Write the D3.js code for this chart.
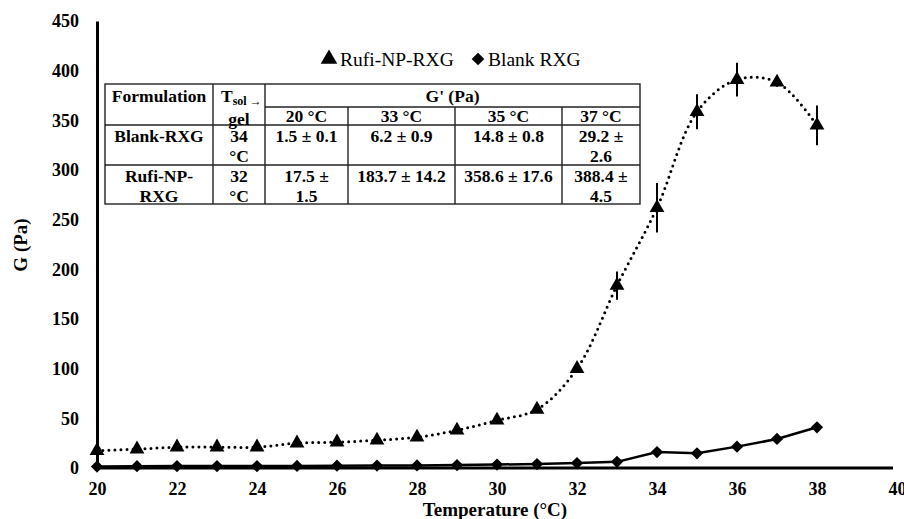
<!DOCTYPE html>
<html lang="en">
<head>
<meta charset="UTF-8">
<title>G vs Temperature</title>
<script src="https://d3js.org/d3.v7.min.js"></script>
<style>
    body { margin: 0; background: #fff; }
    svg { font-family: "Liberation Serif", "Times New Roman", serif; }
    .axis-title { font-size: 19px; font-weight: bold; }
    .cell { font-size: 17.5px; font-weight: bold; }
</style>
</head>
<body>
<svg width="904" height="519"></svg>
<script>
// temperatures (°C)
const temps = [20, 21, 22, 23, 24, 25, 26, 27, 28, 29, 30, 31, 32, 33, 34, 35, 36, 37, 38];
// Rufi-NP-RXG G (Pa) and error
const rufi    = [17.5, 19, 21, 21, 21, 25, 26, 28, 31, 38, 48, 59, 100, 183.7, 262, 358.6, 391, 388.4, 345];
const rufiErr = [1.5, 1, 1, 1, 1, 1, 1, 1, 1, 1, 2, 2, 3, 14.2, 25, 17.6, 17, 4.5, 20];
// Blank RXG G (Pa)
const blank   = [1.5, 1.8, 1.9, 2, 2, 2.1, 2.3, 2.4, 2.6, 3, 3.5, 4, 5, 6.2, 16, 14.8, 21.5, 29.2, 41];

const xTicks = [20, 22, 24, 26, 28, 30, 32, 34, 36, 38, 40];
const yTicks = [0, 50, 100, 150, 200, 250, 300, 350, 400, 450];

// inset table
const colHeads = ["20 °C", "33 °C", "35 °C", "37 °C"];
const rowNames = [["Blank-RXG"], ["Rufi-NP-", "RXG"]];
const rowTsol  = [["34", "°C"], ["32", "°C"]];
const rowVals  = [
    [["1.5 ± 0.1"], ["6.2 ± 0.9"], ["14.8 ± 0.8"], ["29.2 ±", "2.6"]],
    [["17.5 ±", "1.5"], ["183.7 ± 14.2"], ["358.6 ± 17.6"], ["388.4 ±", "4.5"]]
];

const svg = d3.select("svg");
const serif = "'Liberation Serif', 'Times New Roman', serif";

const x = d3.scaleLinear().domain([20, 40]).range([97, 897]);
const y = d3.scaleLinear().domain([0, 450]).range([468, 21]);

// axes
const xAxis = svg.append("g")
    .attr("transform", `translate(0,${y(0)})`)
    .call(d3.axisBottom(x).tickValues(xTicks).tickSize(0).tickPadding(14));
xAxis.select(".domain").attr("stroke-width", 3).attr("d", `M${x(20)},0H${x(40) - 4}`);

const yAxis = svg.append("g")
    .attr("transform", `translate(${x(20)},0)`)
    .call(d3.axisLeft(y).tickValues(yTicks).tickSize(0).tickPadding(18));
yAxis.select(".domain").attr("stroke-width", 3);

[xAxis, yAxis].forEach(a => a
    .attr("font-family", serif)
    .attr("font-size", 18)
    .attr("font-weight", "bold"));

svg.append("text")
    .attr("class", "axis-title")
    .attr("x", 495).attr("y", 516)
    .attr("text-anchor", "middle")
    .text("Temperature (°C)");

svg.append("text")
    .attr("class", "axis-title")
    .attr("font-size", 18)
    .attr("transform", "translate(27,245) rotate(-90)")
    .attr("text-anchor", "middle")
    .text("G (Pa)");

const rufiData = temps.map((t, i) => ({t, v: rufi[i], e: rufiErr[i]}));
const blankData = temps.map((t, i) => ({t, v: blank[i]}));

// Blank RXG solid line
svg.append("path")
    .datum(blankData)
    .attr("fill", "none")
    .attr("stroke", "#000")
    .attr("stroke-width", 2.5)
    .attr("d", d3.line().x(d => x(d.t)).y(d => y(d.v)));

// Rufi dotted smoothed line
svg.append("path")
    .datum(rufiData)
    .attr("fill", "none")
    .attr("stroke", "#000")
    .attr("stroke-width", 3)
    .attr("stroke-linecap", "round")
    .attr("stroke-dasharray", "0,6")
    .attr("d", d3.line().curve(d3.curveCatmullRom.alpha(0.5)).x(d => x(d.t)).y(d => y(d.v)));

// error bars
svg.selectAll(".err")
    .data(rufiData)
    .enter().append("line")
    .attr("class", "err")
    .attr("x1", d => x(d.t)).attr("x2", d => x(d.t))
    .attr("y1", d => y(d.v - d.e)).attr("y2", d => y(d.v + d.e))
    .attr("stroke", "#000")
    .attr("stroke-width", 2);

// markers
const tri = d3.symbol().type(d3.symbolTriangle).size(95);
svg.selectAll(".tri")
    .data(rufiData)
    .enter().append("path")
    .attr("class", "tri")
    .attr("transform", d => `translate(${x(d.t)},${y(d.v)})`)
    .attr("d", tri)
    .attr("fill", "#000");

const dia = d3.symbol().type(d3.symbolSquare).size(75);
svg.selectAll(".dia")
    .data(blankData)
    .enter().append("path")
    .attr("class", "dia")
    .attr("transform", d => `translate(${x(d.t)},${y(d.v)}) rotate(45)`)
    .attr("d", dia)
    .attr("fill", "#000");

// legend
const legend = svg.append("g").attr("transform", "translate(0,60)");
legend.append("path").attr("transform", "translate(329,-1)")
    .attr("d", d3.symbol().type(d3.symbolTriangle).size(120)).attr("fill", "#000");
legend.append("text").attr("x", 340).attr("y", 6).attr("font-size", 19.5).text("Rufi-NP-RXG");
legend.append("path").attr("transform", "translate(478,-1) rotate(45)")
    .attr("d", d3.symbol().type(d3.symbolSquare).size(80)).attr("fill", "#000");
legend.append("text").attr("x", 488).attr("y", 6).attr("font-size", 19.5).text("Blank RXG");

// table
const colX = [105, 213, 265, 348, 455, 562, 640];
const rowY = [84, 125, 165, 204];
const tbl = svg.append("g");
tbl.append("rect")
    .attr("x", colX[0]).attr("y", rowY[0])
    .attr("width", colX[6] - colX[0]).attr("height", rowY[3] - rowY[0])
    .attr("fill", "#fff").attr("stroke", "#222").attr("stroke-width", 1.4);
colX.slice(1, 6).forEach((cx, i) => {
    tbl.append("line")
        .attr("x1", cx).attr("x2", cx)
        .attr("y1", i < 2 ? rowY[0] : 107).attr("y2", rowY[3])
        .attr("stroke", "#222").attr("stroke-width", 1.4);
});
rowY.slice(1, 3).forEach(ry => {
    tbl.append("line").attr("x1", colX[0]).attr("x2", colX[6])
        .attr("y1", ry).attr("y2", ry).attr("stroke", "#222").attr("stroke-width", 1.4);
});
tbl.append("line").attr("x1", colX[2]).attr("x2", colX[6])
    .attr("y1", 107).attr("y2", 107).attr("stroke", "#222").attr("stroke-width", 1.4);

function cellText(lines, cx, top) {
    lines.forEach((s, j) => {
        tbl.append("text").attr("class", "cell")
            .attr("x", cx).attr("y", top + j * 20)
            .attr("text-anchor", "middle").text(s);
    });
}
const mid = i => (colX[i] + colX[i + 1]) / 2;

cellText(["Formulation"], mid(0), 102);
const ts = tbl.append("text").attr("class", "cell").attr("x", 221).attr("y", 102);
ts.append("tspan").text("T");
ts.append("tspan").attr("font-size", 12).attr("dy", 3).text("sol →");
tbl.append("text").attr("class", "cell").attr("font-size", 11)
    .attr("x", mid(1)).attr("y", 125).attr("text-anchor", "middle").text("gel");
cellText(["G' (Pa)"], (colX[2] + colX[6]) / 2, 102);
colHeads.forEach((h, i) => cellText([h], mid(i + 2), 122));

rowNames.forEach((r, k) => {
    const top = rowY[k + 1] + 17;
    cellText(r, mid(0), top);
    cellText(rowTsol[k], mid(1), top);
    rowVals[k].forEach((v, i) => cellText(v, mid(i + 2), top));
});
</script>
</body>
</html>
